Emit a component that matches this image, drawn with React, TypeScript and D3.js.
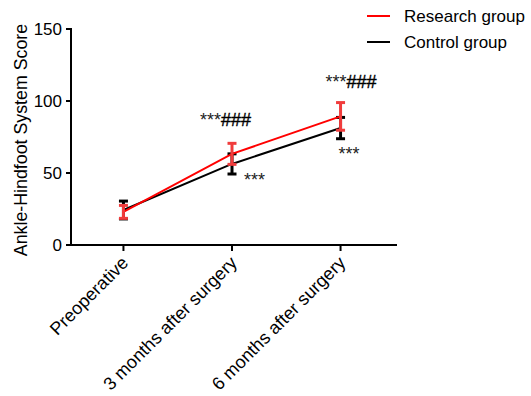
import * as d3 from 'd3'

const categories = ['Preoperative', '3 months after surgery', '6 months after surgery']
const researchMean = [23, 63.3, 89.3]
const researchErr = [4.5, 7.3, 9.6]
const controlMean = [24.3, 56.3, 81.2]
const controlErr = [6.2, 7, 7.4]
const yTicks = [0, 50, 100, 150]
const starMarks = ['', '***', '***']
const hashMarks = ['', '###', '###']
const lowMarks = ['', '***', '***']

const FONT = 'Arial, "Liberation Sans", Helvetica, sans-serif'
const W = 531
const H = 396

// label placement tweaks (px), per category
const TOP_DX = [0, -32, -15]
const TOP_DY = [0, -17, -15]
const LOW_DX = [0, 12, -2]
const LOW_DY = [0, 12, 21]

const series = [
  { name: 'Control group', mean: controlMean, err: controlErr, line: '#000000', bar: '#000000' },
  { name: 'Research group', mean: researchMean, err: researchErr, line: '#ff0000', bar: '#f03c3c' },
]

export default function App() {
  const x = d3.scalePoint<string>().domain(categories).range([67, 397]).padding(0.52)
  const y = d3.scaleLinear().domain([0, 150]).range([245, 29])
  const axisX = 71

  const line = d3.line<number>()
    .x((_, i) => x(categories[i])!)
    .y(d => y(d))

  return (
    <svg width={W} height={H} style={{ position: 'absolute', left: 0, top: 0, background: '#fff' }} fontFamily={FONT}>
      {/* y axis */}
      <line x1={axisX} x2={axisX} y1={y(150) - 1} y2={y(0) + 1} stroke="#000" strokeWidth={2} />
      {yTicks.map(t => (
        <g key={t}>
          <line x1={axisX - 5} x2={axisX} y1={y(t)} y2={y(t)} stroke="#000" strokeWidth={2} />
          <text x={axisX - 9} y={y(t)} dy="0.36em" textAnchor="end" fontSize={17} fill="#000">{t}</text>
        </g>
      ))}
      <text
        transform={`translate(27, ${(y(0) + y(150)) / 2 + 3}) rotate(-90)`}
        textAnchor="middle"
        fontSize={17.8}
        fill="#000"
      >
        Ankle-Hindfoot System Score
      </text>

      {/* x axis */}
      <line x1={axisX} x2={397} y1={y(0)} y2={y(0)} stroke="#000" strokeWidth={2} />
      {categories.map(c => (
        <g key={c}>
          <line x1={x(c)} x2={x(c)} y1={y(0)} y2={y(0) + 6} stroke="#000" strokeWidth={2} />
          <text
            transform={`translate(${x(c)! + 6}, ${y(0) + 19}) rotate(-45)`}
            textAnchor="end"
            fontSize={18}
            fill="#000"
          >
            {c}
          </text>
        </g>
      ))}

      {/* series */}
      {series.map(s => (
        <g key={s.name}>
          <path d={line(s.mean)!} fill="none" stroke={s.line} strokeWidth={2} />
          {s.mean.map((m, i) => {
            const cx = x(categories[i])!
            const y1 = y(m + s.err[i])
            const y2 = y(m - s.err[i])
            return (
              <g key={i} stroke={s.bar} strokeWidth={3}>
                <line x1={cx} x2={cx} y1={y1} y2={y2} />
                <line x1={cx - 4.5} x2={cx + 4.5} y1={y1} y2={y1} />
                <line x1={cx - 4.5} x2={cx + 4.5} y1={y2} y2={y2} />
              </g>
            )
          })}
        </g>
      ))}

      {/* significance marks */}
      {categories.map((c, i) => (
        <g key={c} fontSize={18} fill="#000">
          {hashMarks[i] && (
            <text x={x(c)! + TOP_DX[i]} y={y(researchMean[i] + researchErr[i]) + TOP_DY[i]}>
              <tspan fill="#222">{starMarks[i]}</tspan>
              <tspan stroke="#000" strokeWidth={0.4}>{hashMarks[i]}</tspan>
            </text>
          )}
          {lowMarks[i] && (
            <text x={x(c)! + LOW_DX[i]} y={y(controlMean[i] - controlErr[i]) + LOW_DY[i]} fill="#222">{lowMarks[i]}</text>
          )}
        </g>
      ))}

      {/* legend */}
      {[series[1], series[0]].map((s, i) => (
        <g key={s.name} transform={`translate(0, ${16 + i * 26})`}>
          <line x1={367} x2={390} y1={0} y2={0} stroke={s.line} strokeWidth={2} />
          <text x={404} y={0} dy="0.36em" fontSize={17} fill="#000">{s.name}</text>
        </g>
      ))}
    </svg>
  )
}
